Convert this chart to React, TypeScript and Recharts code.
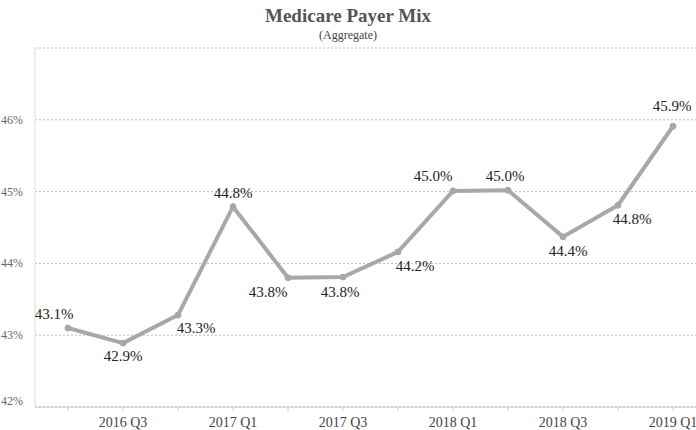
import { LineChart, Line, XAxis, YAxis, CartesianGrid, LabelList } from "recharts";

const quarters = [
  "2016 Q2", "2016 Q3", "2016 Q4", "2017 Q1", "2017 Q2", "2017 Q3",
  "2017 Q4", "2018 Q1", "2018 Q2", "2018 Q3", "2018 Q4", "2019 Q1",
];
const payerMix = [43.1, 42.89, 43.28, 44.79, 43.8, 43.81, 44.16, 45.01, 45.02, 44.37, 44.81, 45.91];
const yTicks = [42, 43, 44, 45, 46, 47];

// where each value label sits relative to its point
const labelOffsets: [number, number][] = [
  [-14, -14], [0, 13], [18, 13], [0, -14], [-20, 14], [-3, 15],
  [17, 14], [-20, -15], [-3, -14], [5, 14], [14, 14], [-1, -20],
];

const data = quarters.map((q, i) => ({ quarter: q, value: payerMix[i] }));

const font = "Liberation Serif, Times New Roman, serif";

function ValueLabel(props: any) {
  const { x, y, value, index } = props;
  const [dx, dy] = labelOffsets[index] ?? [0, -14];
  return (
    <text
      x={x + dx}
      y={y + dy}
      textAnchor="middle"
      dominantBaseline="central"
      style={{ fontFamily: font, fontSize: 15 }}
      fill="#222"
    >
      {`${Number(value).toFixed(1)}%`}
    </text>
  );
}

function YTick(props: any) {
  const { x, y, payload } = props;
  if (payload.value === 47) return null;
  const shift = payload.value === 42 ? -6 : 0;
  return (
    <text
      x={x - 4}
      y={y + shift}
      textAnchor="end"
      dominantBaseline="central"
      style={{ fontFamily: font, fontSize: 12 }}
      fill="#666"
    >
      {`${payload.value}%`}
    </text>
  );
}

function XTick(props: any) {
  const { x, y, payload, index } = props;
  if (index % 2 === 0) return null;
  return (
    <text
      x={x}
      y={y + 9}
      textAnchor="middle"
      dominantBaseline="central"
      style={{ fontFamily: font, fontSize: 14 }}
      fill="#444"
    >
      {payload.value}
    </text>
  );
}

export default function App() {
  return (
    <div style={{ position: "absolute", left: 0, top: 0, width: 696, height: 430, background: "#fff", fontFamily: font }}>
      <div style={{ position: "absolute", left: 0, top: 5, width: 696, textAlign: "center", fontSize: 19, fontWeight: "bold", color: "#555" }}>
        Medicare Payer Mix
      </div>
      <div style={{ position: "absolute", left: 0, top: 28, width: 696, textAlign: "center", fontSize: 12, color: "#444" }}>
        (Aggregate)
      </div>
      <LineChart width={696} height={430} data={data} margin={{ top: 48, right: 0, bottom: 0, left: 0 }}>
        <CartesianGrid vertical={false} stroke="#bbb" strokeDasharray="2 2" />
        <XAxis
          dataKey="quarter"
          interval={0}
          height={23}
          padding={{ left: 33, right: 23 }}
          axisLine={{ stroke: "#ccc" }}
          tickLine={{ stroke: "#ccc" }}
          tickSize={4}
          tick={<XTick />}
        />
        <YAxis
          domain={[42, 47]}
          ticks={yTicks}
          width={35}
          axisLine={{ stroke: "#ddd" }}
          tickLine={false}
          tick={<YTick />}
        />
        <Line
          dataKey="value"
          stroke="#a8a8a8"
          strokeWidth={4}
          dot={{ r: 3, fill: "#a8a8a8", stroke: "#a8a8a8", strokeWidth: 1 }}
          isAnimationActive={false}
        >
          <LabelList dataKey="value" content={<ValueLabel />} />
        </Line>
      </LineChart>
    </div>
  );
}
